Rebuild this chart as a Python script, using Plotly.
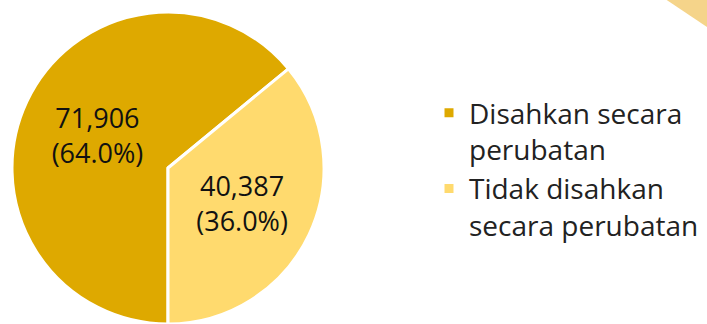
import plotly.graph_objects as go

# data
labels = ["Disahkan secara<br>perubatan", "Tidak disahkan<br>secara perubatan"]
values = [71906, 40387]
colors = ["#DEA900", "#FFDA6E"]

W, H = 707, 324

fig = go.Figure()

fig.add_trace(go.Pie(
    labels=labels,
    values=values,
    sort=False,
    direction="counterclockwise",
    rotation=180,
    marker=dict(colors=colors, line=dict(color="white", width=3)),
    texttemplate="%{value:,}<br>(%{percent:.1%})",
    textposition="inside",
    insidetextorientation="horizontal",
    textfont=dict(family="Open Sans", size=27, color="#111111"),
    domain=dict(x=[12 / W, 324 / W], y=[0, 1 - 12 / H]),
    hoverinfo="label+value+percent",
))

# little decorative triangle top right
fig.add_shape(type="path", xref="paper", yref="paper",
              path="M 0.943 1 L 1 1 L 1 0.917 Z",
              fillcolor="#F5D48A", line=dict(width=0), layer="above")

fig.update_layout(
    width=W,
    height=H,
    margin=dict(l=0, r=0, t=0, b=0),
    paper_bgcolor="white",
    plot_bgcolor="white",
    showlegend=True,
    legend=dict(x=429 / W, y=1 - 88 / H, xanchor="left", yanchor="top",
                valign="top", font=dict(family="Open Sans", size=28, color="#222222"),
                bgcolor="rgba(0,0,0,0)"),
)

# page body has an 8px default margin, drop it so the figure sits at 0,0
fig.write_html("out.html", config={"displayModeBar": False},
               post_script="document.body.style.margin='0';")
